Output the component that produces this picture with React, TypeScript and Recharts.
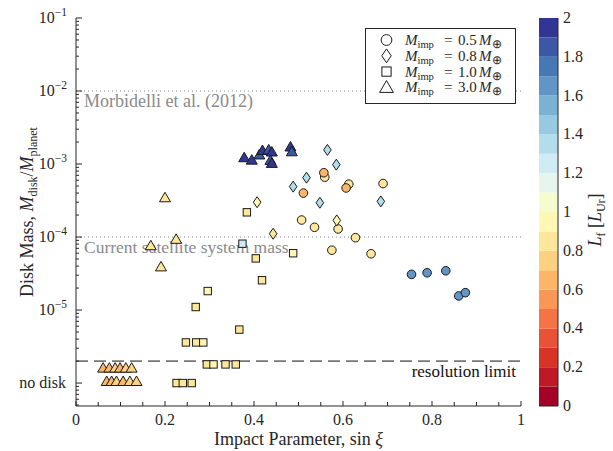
import React from 'react';
import {
  ScatterChart,
  Scatter,
  XAxis,
  YAxis,
  ReferenceLine,
  Legend,
  BarChart,
  Bar,
} from 'recharts';

const FONT = '"Liberation Serif", "Times New Roman", serif';
const INK = '#262626';

// x = sin(xi), y = Mdisk / Mplanet, lf = final angular momentum [L_Ur]
const imp05 = [
  { x: 0.559, y: 6.6e-4, lf: 0.85 },
  { x: 0.613, y: 5.3e-4, lf: 0.85 },
  { x: 0.69, y: 5.4e-4, lf: 0.85 },
  { x: 0.507, y: 1.71e-4, lf: 0.85 },
  { x: 0.536, y: 1.36e-4, lf: 0.85 },
  { x: 0.589, y: 1.29e-4, lf: 0.85 },
  { x: 0.628, y: 9.8e-5, lf: 0.85 },
  { x: 0.575, y: 6.6e-5, lf: 0.85 },
  { x: 0.663, y: 5.9e-5, lf: 0.85 },
  { x: 0.557, y: 7.6e-4, lf: 0.65 },
  { x: 0.511, y: 4.0e-4, lf: 0.65 },
  { x: 0.607, y: 4.7e-4, lf: 0.65 },
  { x: 0.754, y: 3.08e-5, lf: 1.65 },
  { x: 0.789, y: 3.24e-5, lf: 1.65 },
  { x: 0.831, y: 3.45e-5, lf: 1.65 },
  { x: 0.86, y: 1.56e-5, lf: 1.65 },
  { x: 0.875, y: 1.73e-5, lf: 1.65 },
];

const imp08 = [
  { x: 0.565, y: 1.56e-3, lf: 1.35 },
  { x: 0.585, y: 9.8e-4, lf: 1.35 },
  { x: 0.518, y: 6.5e-4, lf: 1.35 },
  { x: 0.488, y: 4.9e-4, lf: 1.35 },
  { x: 0.548, y: 2.95e-4, lf: 1.35 },
  { x: 0.685, y: 3.08e-4, lf: 1.35 },
  { x: 0.407, y: 3.0e-4, lf: 0.95 },
  { x: 0.586, y: 1.69e-4, lf: 0.9 },
  { x: 0.443, y: 1.11e-4, lf: 0.85 },
];

const imp10 = [
  { x: 0.384, y: 2.18e-4, lf: 0.85 },
  { x: 0.374, y: 8.1e-5, lf: 1.25 },
  { x: 0.404, y: 5.1e-5, lf: 0.85 },
  { x: 0.418, y: 2.56e-5, lf: 0.85 },
  { x: 0.488, y: 6.0e-5, lf: 0.9 },
  { x: 0.296, y: 1.82e-5, lf: 0.95 },
  { x: 0.269, y: 1.1e-5, lf: 0.85 },
  { x: 0.367, y: 5.4e-6, lf: 0.85 },
  { x: 0.247, y: 3.6e-6, lf: 0.85 },
  { x: 0.27, y: 3.6e-6, lf: 0.85 },
  { x: 0.286, y: 3.6e-6, lf: 0.9 },
  { x: 0.294, y: 1.8e-6, lf: 0.85 },
  { x: 0.309, y: 1.8e-6, lf: 0.9 },
  { x: 0.336, y: 1.8e-6, lf: 0.85 },
  { x: 0.359, y: 1.8e-6, lf: 0.85 },
  { x: 0.226, y: 1.0e-6, lf: 0.85 },
  { x: 0.24, y: 1.0e-6, lf: 0.85 },
  { x: 0.26, y: 1.0e-6, lf: 0.85 },
];

const imp30 = [
  { x: 0.2, y: 3.45e-4, lf: 0.85 },
  { x: 0.225, y: 9.3e-5, lf: 0.85 },
  { x: 0.168, y: 7.6e-5, lf: 0.85 },
  { x: 0.191, y: 3.9e-5, lf: 0.85 },
  { x: 0.378, y: 1.22e-3, lf: 1.9 },
  { x: 0.395, y: 1.13e-3, lf: 1.9 },
  { x: 0.412, y: 1.33e-3, lf: 1.85 },
  { x: 0.419, y: 1.53e-3, lf: 1.9 },
  { x: 0.433, y: 1.56e-3, lf: 1.85 },
  { x: 0.44, y: 1.46e-3, lf: 1.9 },
  { x: 0.437, y: 1.12e-3, lf: 1.85 },
  { x: 0.44, y: 1.02e-3, lf: 1.9 },
  { x: 0.482, y: 1.71e-3, lf: 1.9 },
  { x: 0.485, y: 1.47e-3, lf: 1.85 },
  { x: 0.061, y: 1.6e-6, lf: 0.65 },
  { x: 0.075, y: 1.6e-6, lf: 0.65 },
  { x: 0.088, y: 1.6e-6, lf: 0.75 },
  { x: 0.099, y: 1.6e-6, lf: 0.65 },
  { x: 0.112, y: 1.6e-6, lf: 0.75 },
  { x: 0.125, y: 1.6e-6, lf: 0.75 },
  { x: 0.069, y: 1.05e-6, lf: 0.65 },
  { x: 0.08, y: 1.05e-6, lf: 0.65 },
  { x: 0.091, y: 1.05e-6, lf: 0.75 },
  { x: 0.106, y: 1.05e-6, lf: 0.65 },
  { x: 0.121, y: 1.05e-6, lf: 0.75 },
  { x: 0.136, y: 1.05e-6, lf: 0.75 },
];

const legendRows = [
  { shape: 'circle', mass: '0.5' },
  { shape: 'diamond', mass: '0.8' },
  { shape: 'square', mass: '1.0' },
  { shape: 'triangle', mass: '3.0' },
];

const X_MAJOR = [0, 0.2, 0.4, 0.6, 0.8, 1];
const X_MINOR = [0.05, 0.1, 0.15, 0.25, 0.3, 0.35, 0.45, 0.5, 0.55, 0.65, 0.7, 0.75, 0.85, 0.9, 0.95];
const Y_MAJOR = [1e-6, 1e-5, 1e-4, 1e-3, 1e-2, 1e-1];
const Y_MINOR_MULT = [2, 3, 4, 5, 6, 7, 8, 9];
const Y_MIN = 4.85e-7;
const CB_TICKS = [0, 0.2, 0.4, 0.6, 0.8, 1, 1.2, 1.4, 1.6, 1.8, 2];

const morbidelli = 1e-2;
const satellites = 1e-4;
const resolution = 2e-6;

const X_TICKS = [...X_MAJOR, ...X_MINOR].sort((a, b) => a - b);
const Y_TICKS = [
  ...Y_MAJOR,
  ...[1e-7, ...Y_MAJOR.slice(0, 5)].flatMap((d) => Y_MINOR_MULT.map((m) => d * m)),
]
  .filter((v) => v >= Y_MIN && v <= 0.1)
  .sort((a, b) => a - b);

// RdYlBu, 20 discrete levels over Lf = 0..2
const RDYLBU = ['#a50026', '#d73027', '#f46d43', '#fdae61', '#fee090', '#ffffbf', '#e0f3f8', '#abd9e9', '#74add1', '#4575b4', '#313695'];
const hex = (c: string) => [1, 3, 5].map((i) => parseInt(c.slice(i, i + 2), 16));
const LEVELS = Array.from({ length: 20 }, (_, i) => {
  const t = (i / 19) * 10;
  const k = Math.min(9, Math.floor(t));
  const f = t - k;
  const a = hex(RDYLBU[k]);
  const b = hex(RDYLBU[k + 1]);
  return `rgb(${a.map((v, j) => Math.round(v + (b[j] - v) * f)).join(',')})`;
});
const lfColor = (lf: number) => LEVELS[Math.max(0, Math.min(19, Math.floor(lf * 10 + 1e-9)))];

const isMajorY = (v: number) => Math.abs(Math.log10(v) - Math.round(Math.log10(v))) < 1e-6;
const isMajorX = (v: number) => X_MAJOR.some((m) => Math.abs(m - v) < 1e-9);

function Marker({ kind, cx, cy, fill, s = 1 }: { kind: string; cx: number; cy: number; fill: string; s?: number }) {
  const p = { fill, stroke: '#1a1a1a', strokeWidth: 1 };
  if (kind === 'circle') return <circle cx={cx} cy={cy} r={4.3 * s} {...p} />;
  if (kind === 'diamond')
    return (
      <polygon
        points={`${cx},${cy - 5.5 * s} ${cx + 3.8 * s},${cy} ${cx},${cy + 5.5 * s} ${cx - 3.8 * s},${cy}`}
        {...p}
      />
    );
  if (kind === 'square') return <rect x={cx - 3.7 * s} y={cy - 3.7 * s} width={7.4 * s} height={7.4 * s} {...p} />;
  return (
    <polygon
      points={`${cx},${cy - 5.5 * s} ${cx + 5.5 * s},${cy + 4 * s} ${cx - 5.5 * s},${cy + 4 * s}`}
      {...p}
    />
  );
}

const shapeFor = (kind: string) => (props: any) =>
  <Marker kind={kind} cx={props.cx} cy={props.cy} fill={lfColor(props.payload.lf)} />;

function XBottomTick({ x, y, payload }: any) {
  const major = isMajorX(payload.value);
  return (
    <g>
      <line x1={x} x2={x} y1={y} y2={y - (major ? 5 : 4)} stroke={INK} />
      {major && (
        <text x={x} y={y + 19} textAnchor="middle" fontFamily={FONT} fontSize={16} fill={INK}>
          {String(payload.value)}
        </text>
      )}
    </g>
  );
}

function XTopTick({ x, y, payload }: any) {
  const major = isMajorX(payload.value);
  return <line x1={x} x2={x} y1={y} y2={y + (major ? 5 : 4)} stroke={INK} />;
}

function YLeftTick({ x, y, payload }: any) {
  const major = isMajorY(payload.value);
  const e = Math.round(Math.log10(payload.value));
  return (
    <g>
      <line x1={x} x2={x + (major ? 6 : 3)} y1={y} y2={y} stroke={INK} />
      {major && e === -6 && (
        <text x={x - 10} y={y + 5} textAnchor="end" fontFamily={FONT} fontSize={16} fill={INK}>
          no disk
        </text>
      )}
      {major && e !== -6 && (
        <text x={x - 9} y={y + 5} textAnchor="end" fontFamily={FONT} fontSize={16} fill={INK}>
          <tspan>10</tspan>
          <tspan dy={-7} fontSize={11.5}>{`\u2212${-e}`}</tspan>
        </text>
      )}
    </g>
  );
}

function YRightTick({ x, y, payload }: any) {
  const major = isMajorY(payload.value);
  return <line x1={x} x2={x - (major ? 6 : 3)} y1={y} y2={y} stroke={INK} />;
}

const refLabel = (text: string, side: 'left' | 'right', color: string, size: number) => (props: any) => {
  const vb = props.viewBox;
  const left = side === 'left';
  return (
    <text
      x={left ? vb.x + 8 : vb.x + vb.width - 5}
      y={vb.y + 16}
      textAnchor={left ? 'start' : 'end'}
      fontFamily={FONT}
      fontSize={size}
      fill={color}
    >
      {text}
    </text>
  );
};

function XTitle() {
  return (
    <text x={298.5} y={445} textAnchor="middle" fontFamily={FONT} fontSize={18} fill={INK}>
      Impact Parameter, sin <tspan fontStyle="italic">ξ</tspan>
    </text>
  );
}

function YTitle() {
  return (
    <text x={33} y={212} transform="rotate(-90 33 212)" textAnchor="middle" fontFamily={FONT} fontSize={18} fill={INK}>
      Disk Mass, <tspan fontStyle="italic">M</tspan>
      <tspan fontSize={12} dy={4}>disk</tspan>
      <tspan dy={-4}>/</tspan>
      <tspan fontStyle="italic">M</tspan>
      <tspan fontSize={12} dy={4}>planet</tspan>
    </text>
  );
}

function LegendBox() {
  return (
    <svg width={151} height={76} style={{ display: 'block' }}>
      <rect x={0.5} y={0.5} width={150} height={75} fill="#fff" stroke={INK} />
      {legendRows.map((r, i) => {
        const cy = 12 + i * 15.8;
        return (
          <g key={r.mass}>
            <Marker kind={r.shape} cx={21.5} cy={cy} fill="none" s={1.25} />
            <text x={40} y={cy + 5} fontFamily={FONT} fontSize={15} fill={INK}>
              <tspan fontStyle="italic">M</tspan>
              <tspan fontSize={10.5} dy={3}>imp</tspan>
              <tspan x={79} dy={-3}>=</tspan>
              <tspan x={93}>{r.mass}</tspan>
              <tspan x={114} fontStyle="italic">M</tspan>
              <tspan fontSize={12} dy={3}>⊕</tspan>
            </text>
          </g>
        );
      })}
    </svg>
  );
}

function ColorBar() {
  const row: Record<string, number | string> = { name: 'cb' };
  LEVELS.forEach((_, i) => {
    row[`l${i}`] = 0.1;
  });
  return (
    <BarChart
      width={74}
      height={451}
      data={[row]}
      margin={{ top: 18, right: 0, bottom: 0, left: 0 }}
      barCategoryGap={0}
      barGap={0}
    >
      <XAxis dataKey="name" height={45} tick={false} tickLine={false} axisLine={{ stroke: INK }} />
      <XAxis xAxisId="t" dataKey="name" orientation="top" height={0} tick={false} tickLine={false} axisLine={{ stroke: INK }} />
      <YAxis yAxisId="l" width={0} domain={[0, 2]} tick={false} tickLine={false} axisLine={{ stroke: INK }} />
      <YAxis
        yAxisId="r"
        orientation="right"
        width={55}
        domain={[0, 2]}
        ticks={CB_TICKS}
        interval={0}
        tickSize={0}
        tickMargin={0}
        tickLine={false}
        axisLine={{ stroke: INK }}
        tick={({ x, y, payload }: any) => (
          <text x={x + 5} y={y + 5} fontFamily={FONT} fontSize={16} fill={INK}>
            {String(Number(payload.value.toFixed(1)))}
          </text>
        )}
        label={{
          content: () => (
            <text x={62} y={220} transform="rotate(-90 62 220)" textAnchor="middle" fontFamily={FONT} fontSize={18} fill={INK}>
              <tspan fontStyle="italic">L</tspan>
              <tspan fontSize={12} dy={4}>f</tspan>
              <tspan dy={-4}> [</tspan>
              <tspan fontStyle="italic">L</tspan>
              <tspan fontSize={12} dy={4}>Ur</tspan>
              <tspan dy={-4}>]</tspan>
            </text>
          ),
        }}
      />
      {LEVELS.map((c, i) => (
        <Bar key={i} dataKey={`l${i}`} stackId="cb" yAxisId="r" fill={c} isAnimationActive={false} />
      ))}
    </BarChart>
  );
}

export default function App() {
  return (
    <div style={{ position: 'absolute', left: 0, top: 0, width: 613, height: 451, background: '#fff' }}>
      <div style={{ position: 'absolute', left: 0, top: 0 }}>
        <ScatterChart width={540} height={451} margin={{ top: 18, right: 19, bottom: 0, left: 0 }}>
          <XAxis
            type="number"
            dataKey="x"
            domain={[0, 1]}
            ticks={X_TICKS}
            interval={0}
            height={45}
            tickSize={0}
            tickMargin={0}
            tickLine={false}
            axisLine={{ stroke: INK }}
            tick={<XBottomTick />}
            label={{ content: () => <XTitle /> }}
          />
          <XAxis
            xAxisId="top"
            orientation="top"
            type="number"
            dataKey="x"
            domain={[0, 1]}
            ticks={X_TICKS}
            interval={0}
            height={0}
            tickSize={0}
            tickMargin={0}
            tickLine={false}
            axisLine={{ stroke: INK }}
            tick={<XTopTick />}
          />
          <YAxis
            type="number"
            dataKey="y"
            scale="log"
            domain={[Y_MIN, 0.1]}
            allowDataOverflow
            ticks={Y_TICKS}
            interval={0}
            width={76}
            tickSize={0}
            tickMargin={0}
            tickLine={false}
            axisLine={{ stroke: INK }}
            tick={<YLeftTick />}
            label={{ content: () => <YTitle /> }}
          />
          <YAxis
            yAxisId="right"
            orientation="right"
            type="number"
            dataKey="y"
            scale="log"
            domain={[Y_MIN, 0.1]}
            allowDataOverflow
            ticks={Y_TICKS}
            interval={0}
            width={0}
            tickSize={0}
            tickMargin={0}
            tickLine={false}
            axisLine={{ stroke: INK }}
            tick={<YRightTick />}
          />
          <ReferenceLine y={morbidelli} stroke="#8a8a8a" strokeDasharray="1 3" label={{ content: refLabel('Morbidelli et al. (2012)', 'left', '#8a8a8a', 18) }} />
          <ReferenceLine y={satellites} stroke="#8a8a8a" strokeDasharray="1 3" label={{ content: refLabel('Current satellite system mass', 'left', '#8a8a8a', 17.5) }} />
          <ReferenceLine y={resolution} stroke="#111" strokeDasharray="12 6" label={{ content: refLabel('resolution limit', 'right', '#111', 17) }} />
          <Scatter data={imp05} shape={shapeFor('circle')} isAnimationActive={false} />
          <Scatter data={imp08} shape={shapeFor('diamond')} isAnimationActive={false} />
          <Scatter data={imp10} shape={shapeFor('square')} isAnimationActive={false} />
          <Scatter data={imp30} shape={shapeFor('triangle')} isAnimationActive={false} />
          <Legend
            layout="horizontal"
            verticalAlign="middle"
            align="center"
            content={() => <LegendBox />}
            wrapperStyle={{ position: 'absolute', left: 365, top: 28, width: 151, height: 76 }}
          />
        </ScatterChart>
      </div>
      <div style={{ position: 'absolute', left: 539, top: 0 }}>
        <ColorBar />
      </div>
    </div>
  );
}
